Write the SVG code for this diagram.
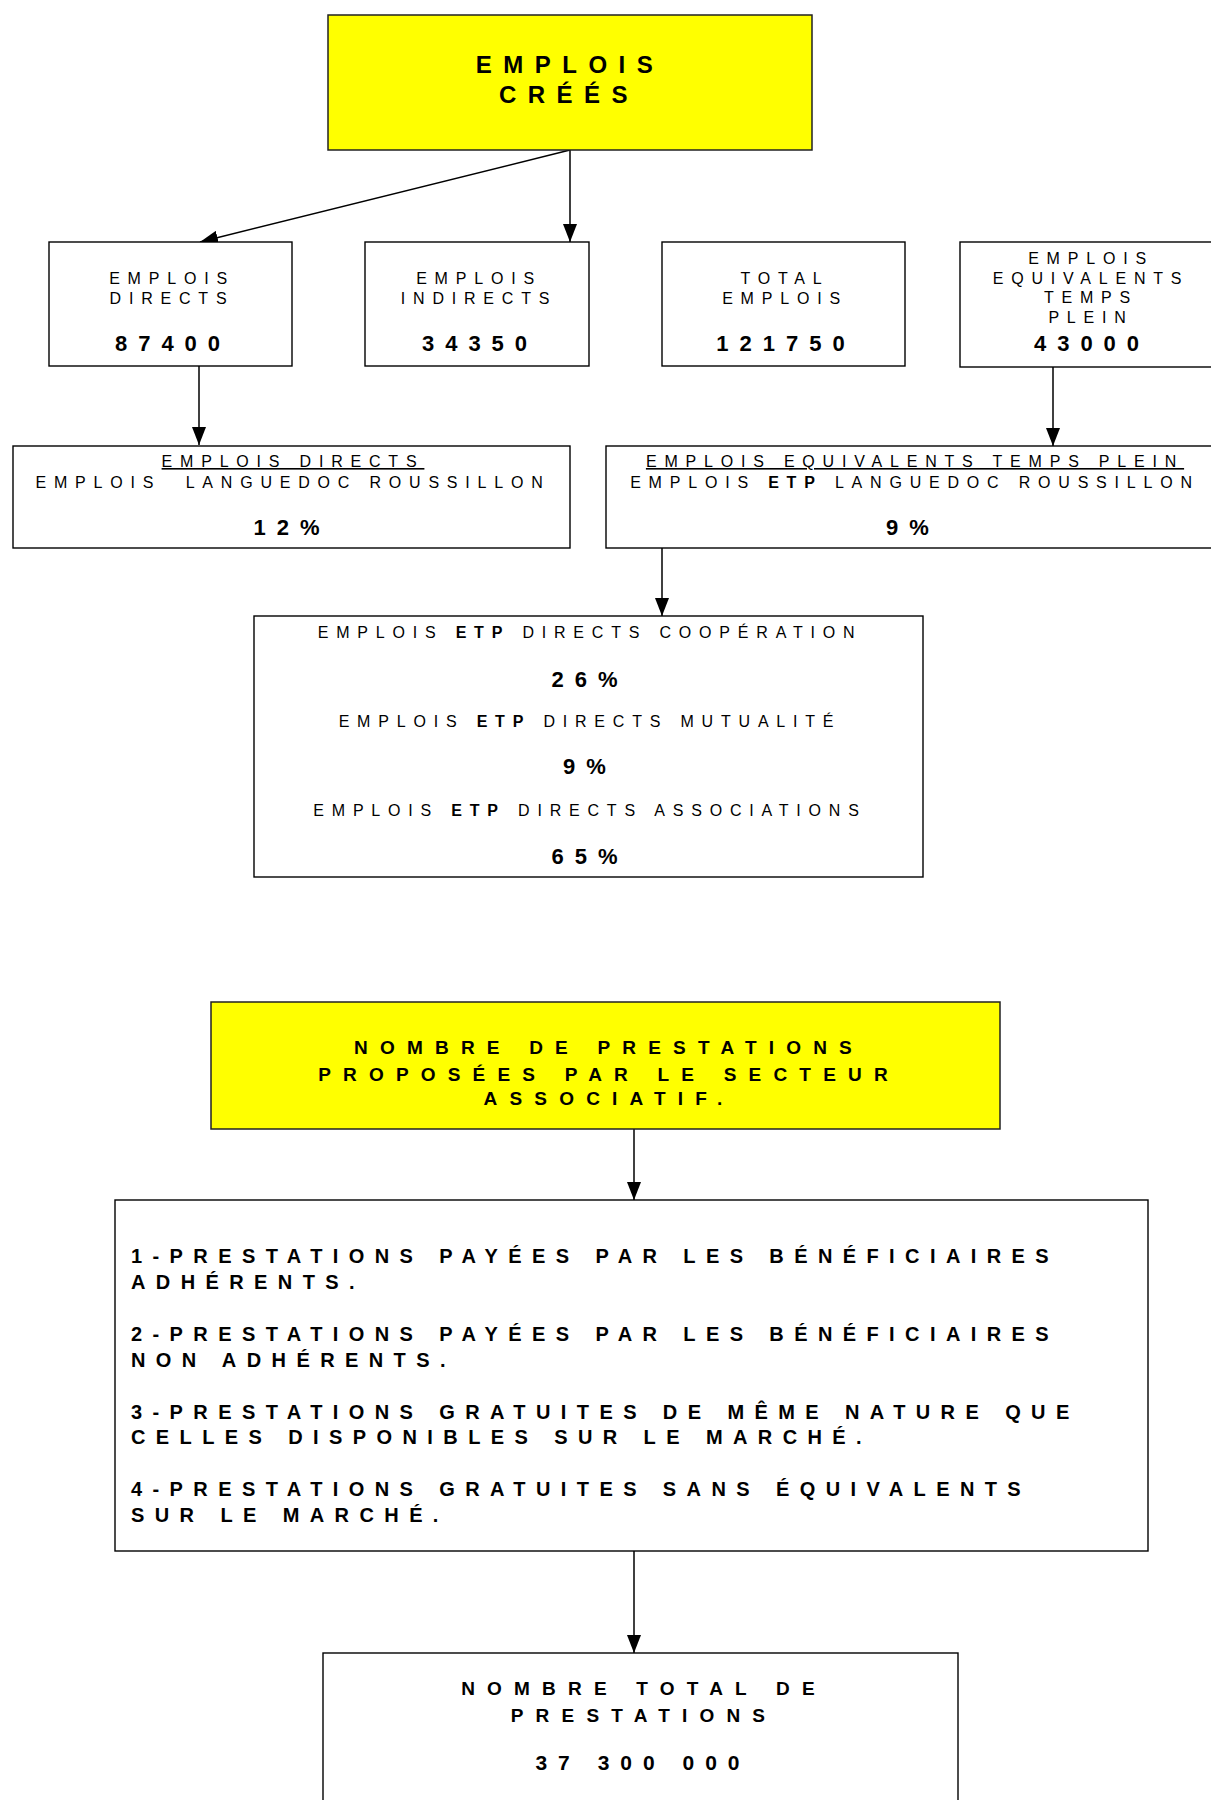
<svg xmlns="http://www.w3.org/2000/svg" width="1211" height="1800" viewBox="0 0 1211 1800">
<defs>
<style>
text{font-family:"Liberation Sans",Arial,sans-serif;fill:#000}
.box{fill:#fff;stroke:#000;stroke-width:1.4}
.yel{fill:#ffff00;stroke:#222;stroke-width:1.5}
.lbl{font-size:16px;letter-spacing:7.8px;text-anchor:middle}
.num{font-size:22px;font-weight:bold;letter-spacing:11px;text-anchor:middle}
.hd{font-size:24px;font-weight:bold;letter-spacing:11.5px;text-anchor:middle}
.hd2{font-size:19px;font-weight:bold;letter-spacing:12.2px;text-anchor:middle}
.list{font-size:20px;font-weight:bold;letter-spacing:10.4px}
.b{font-weight:bold}
.u{text-decoration:underline}
.con{stroke:#000;stroke-width:1.5;fill:none;marker-end:url(#arr)}
</style>
<marker id="arr" markerUnits="userSpaceOnUse" markerWidth="18" markerHeight="14" viewBox="0 0 18 14" refX="18" refY="7" orient="auto">
<path d="M0,0 L18,7 L0,14 z" fill="#000"/>
</marker>
</defs>

<g id="connectors">
<line class="con" x1="570" y1="150" x2="570" y2="242"/>
<line class="con" x1="570" y1="150" x2="200" y2="242"/>
<line class="con" x1="199" y1="366" x2="199" y2="445"/>
<line class="con" x1="1053" y1="367" x2="1053" y2="446"/>
<line class="con" x1="662" y1="548" x2="662" y2="616"/>
<line class="con" x1="634" y1="1129" x2="634" y2="1200"/>
<line class="con" x1="634" y1="1547" x2="634" y2="1653"/>
</g>

<g id="emplois-crees">
<rect class="yel" x="328" y="15" width="484" height="135"/>
<text class="hd" x="570" y="73">EMPLOIS</text>
<text class="hd" x="569" y="103">CRÉÉS</text>
</g>

<g id="emplois-directs">
<rect class="box" x="49" y="242" width="243" height="124"/>
<text class="lbl" x="172" y="284">EMPLOIS</text>
<text class="lbl" x="172" y="304">DIRECTS</text>
<text class="num" x="173" y="351">87400</text>
</g>

<g id="emplois-indirects">
<rect class="box" x="365" y="242" width="224" height="124"/>
<text class="lbl" x="479" y="284">EMPLOIS</text>
<text class="lbl" x="479" y="304">INDIRECTS</text>
<text class="num" x="480" y="351">34350</text>
</g>

<g id="total-emplois">
<rect class="box" x="662" y="242" width="243" height="124"/>
<text class="lbl" x="785" y="284">TOTAL</text>
<text class="lbl" x="785" y="304">EMPLOIS</text>
<text class="num" x="786" y="351">121750</text>
</g>

<g id="emplois-etp">
<rect class="box" x="960" y="242" width="256" height="125"/>
<text class="lbl" x="1091" y="264">EMPLOIS</text>
<text class="lbl" x="1091" y="284">EQUIVALENTS</text>
<text class="lbl" x="1091" y="303">TEMPS</text>
<text class="lbl" x="1091" y="323">PLEIN</text>
<text class="num" x="1092" y="351">43000</text>
</g>

<g id="directs-lr">
<rect class="box" x="13" y="446" width="557" height="102"/>
<text class="lbl u" x="293" y="467">EMPLOIS DIRECTS</text>
<text class="lbl" x="293" y="488">EMPLOIS&#160; LANGUEDOC ROUSSILLON</text>
<text class="num" x="292" y="535">12%</text>
</g>

<g id="etp-lr">
<rect class="box" x="606" y="446" width="610" height="102"/>
<text class="lbl u" x="915" y="467">EMPLOIS EQUIVALENTS TEMPS PLEIN</text>
<text class="lbl" x="915" y="488">EMPLOIS <tspan class="b">ETP</tspan> LANGUEDOC ROUSSILLON</text>
<text class="num" x="913" y="535">9%</text>
</g>

<g id="etp-repartition">
<rect class="box" x="254" y="616" width="669" height="261"/>
<text class="lbl" x="590" y="638">EMPLOIS <tspan class="b">ETP</tspan> DIRECTS COOPÉRATION</text>
<text class="num" x="590" y="687">26%</text>
<text class="lbl" x="590" y="727">EMPLOIS <tspan class="b">ETP</tspan> DIRECTS MUTUALITÉ</text>
<text class="num" x="590" y="774">9%</text>
<text class="lbl" x="590" y="816">EMPLOIS <tspan class="b">ETP</tspan> DIRECTS ASSOCIATIONS</text>
<text class="num" x="590" y="864">65%</text>
</g>

<g id="nombre-prestations">
<rect class="yel" x="211" y="1002" width="789" height="127"/>
<text class="hd2" x="609" y="1054">NOMBRE DE PRESTATIONS</text>
<text class="hd2" x="609" y="1081">PROPOSÉES PAR LE SECTEUR</text>
<text class="hd2" x="609" y="1105">ASSOCIATIF.</text>
</g>

<g id="liste-prestations">
<rect class="box" x="115" y="1200" width="1033" height="351"/>
<text class="list" x="131" y="1263">1-PRESTATIONS PAYÉES PAR LES BÉNÉFICIAIRES</text>
<text class="list" x="131" y="1289">ADHÉRENTS.</text>
<text class="list" x="131" y="1341">2-PRESTATIONS PAYÉES PAR LES BÉNÉFICIAIRES</text>
<text class="list" x="131" y="1367">NON ADHÉRENTS.</text>
<text class="list" x="131" y="1419">3-PRESTATIONS GRATUITES DE MÊME NATURE QUE</text>
<text class="list" x="131" y="1444">CELLES DISPONIBLES SUR LE MARCHÉ.</text>
<text class="list" x="131" y="1496">4-PRESTATIONS GRATUITES SANS ÉQUIVALENTS</text>
<text class="list" x="131" y="1522">SUR LE MARCHÉ.</text>
</g>

<g id="total-prestations">
<rect class="box" x="323" y="1653" width="635" height="170"/>
<text class="hd2" x="644" y="1695">NOMBRE TOTAL DE</text>
<text class="hd2" x="644" y="1722">PRESTATIONS</text>
<text class="hd2" x="643" y="1770" style="font-size:21px;letter-spacing:11px">37 300 000</text>
</g>
</svg>
